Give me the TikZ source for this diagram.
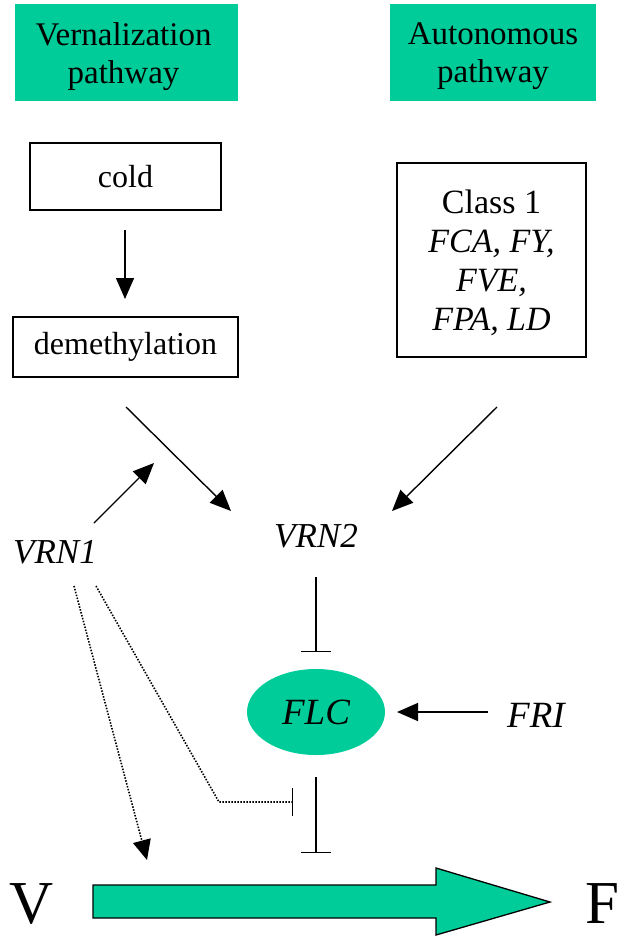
\documentclass[tikz,border=0pt]{standalone}
\usepackage{fontspec}
\setmainfont{Liberation Serif}
\usetikzlibrary{arrows.meta,shapes.geometric}
\definecolor{pathgreen}{RGB}{0,204,153}
\begin{document}
\begin{tikzpicture}[x=1pt,y=-1pt,
  greenbox/.style={fill=pathgreen, draw=none, inner sep=0pt},
  boxtext/.style={inner sep=0pt, align=center, font=\fontsize{33}{38}\selectfont},
  plainbox/.style={draw, line width=1.2pt, inner sep=0pt, align=center, font=\fontsize{32}{38}\selectfont},
  act/.style={-{Triangle[length=21pt,width=18pt]}, line width=1.4pt},
  inh/.style={-{Bar[width=30pt]}, line width=1.4pt},
  dotact/.style={line width=1.6pt, dash pattern=on 1.5pt off 1.5pt, -{Triangle[length=20pt,width=18pt,sep=0pt]}},
  dotinh/.style={line width=1.6pt, dash pattern=on 1.5pt off 1.5pt, -{Bar[width=28pt,line width=1.4pt]}},
  lbl/.style={inner sep=0pt, font=\fontsize{35}{40}\selectfont\itshape},
  big/.style={inner sep=0pt, font=\fontsize{61}{61}\selectfont}]
\useasboundingbox (0,0) rectangle (621,937);
% top boxes
\node[greenbox, minimum width=223pt, minimum height=97pt] (vernbox) at (126.5,52.5) {};
\node[boxtext] (vern) at ([xshift=-3pt,yshift=-4pt]vernbox.center) {Vernalization\\pathway};
\node[greenbox, minimum width=206pt, minimum height=97pt] (autobox) at (493,52.5) {};
\node[boxtext] (auto) at ([yshift=-4pt]autobox.center) {Autonomous\\pathway};
\node[plainbox, minimum width=191pt, minimum height=67pt] (cold) at (125.5,176.5) {cold};
\node[plainbox, minimum width=225pt, minimum height=60pt] (demeth) at (125.5,347) {demethylation};
\node[draw, line width=1.2pt, minimum width=189pt, minimum height=194pt] (class) at (491.5,260) {};
\node[inner sep=0pt, align=center, font=\fontsize{34}{39}\selectfont] (classt) at ([yshift=-3pt]class.center)
  {Class 1\\\textit{FCA, FY,}\\\textit{FVE,}\\\textit{FPA, LD}};
% labels
\node[lbl] (vrn1) at (55,552) {VRN1};
\node[lbl] (vrn2) at (316,536) {VRN2};
\node[ellipse, fill=pathgreen, minimum width=138pt, minimum height=86pt, inner sep=0pt,
  font=\fontsize{37}{40}\selectfont\itshape] (flc) at (316,712) {FLC};
\node[lbl, font=\fontsize{37}{40}\selectfont\itshape] (fri) at (536,715) {FRI};
\node[big] (V) at (32,904) {V};
\node[big, anchor=east] (F) at (620,904) {F};
% connectors
\coordinate (cs) at (125,230); \coordinate (ce) at (125,299);
\draw[act] (cs) -- (ce);
\coordinate (d1) at (126,407); \coordinate (d2) at (231,511);
\coordinate (c1) at (497,407); \coordinate (c2) at (392,511);
\coordinate (v1s) at (94,523); \coordinate (v1e) at (154,463);
\draw[act] (d1) -- (d2);
\draw[act] (c1) -- (c2);
\draw[act] (v1s) -- (v1e);
\coordinate (r1) at (316,577); \coordinate (r2) at (316,652);
\draw[inh] (r1) -- (r2);
\coordinate (fa) at (488,712); \coordinate (fb) at (397,712);
\draw[act] (fa) -- (fb);
\coordinate (l1) at (316,777); \coordinate (l2) at (316,853);
\draw[inh] (l1) -- (l2);
\coordinate (o1) at (74,586); \coordinate (o2) at (147,860);
\draw[dotact] (o1) -- (o2);
\coordinate (p1) at (96,586); \coordinate (p2) at (219,802); \coordinate (p3) at (293,802);
\draw[dotinh] (p1) -- (p2) -- (p3);
% big arrow
\draw[fill=pathgreen, line width=1.3pt] (93,885) -- (436,885) -- (436,868) -- (550,902) -- (436,935) -- (436,918) -- (93,918) -- cycle;
\end{tikzpicture}
\end{document}
